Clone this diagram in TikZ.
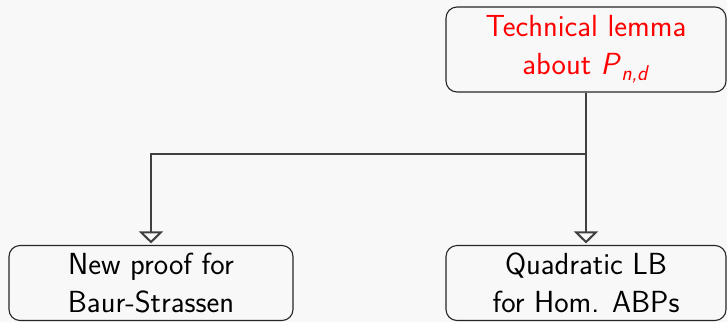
\documentclass[tikz,border=0pt]{standalone}
\usepackage{amsmath}
\usetikzlibrary{arrows.meta}
\definecolor{bgc}{HTML}{F8F8F8}
\definecolor{linec}{HTML}{404040}
\begin{document}
\begin{tikzpicture}[x=1pt,y=1pt,
  box/.style={draw=black!85, line width=1.1pt, rounded corners=11pt, align=center,
    font=\fontsize{30.5}{38}\selectfont\sffamily, inner sep=0pt},
  conn/.style={draw=linec, line width=2.6pt,
    -{Triangle[open,width=24pt,length=12pt,line width=2pt]}, shorten >=1.5pt}]
\fill[bgc] (0,0) rectangle (727,-322);
\useasboundingbox (0,0) rectangle (727,-322);
\node[box, minimum width=280pt, minimum height=85pt, text=red] (top) at (586,-49.5)
  {Technical lemma\\about $\textsf{\textit{P}}_{\textsf{\textit{n,d}}}$};
\node[box, minimum width=284pt, minimum height=75pt] (left) at (151,-283)
  {New proof for\\Baur-Strassen};
\node[box, minimum width=280pt, minimum height=75pt] (right) at (586,-283)
  {Quadratic LB\\for Hom. ABPs};
\coordinate (j) at (586,-154);
\draw[conn] (top.south) -- (j) -| (left.north);
\draw[conn] (j) -- (right.north);
\end{tikzpicture}
\end{document}
